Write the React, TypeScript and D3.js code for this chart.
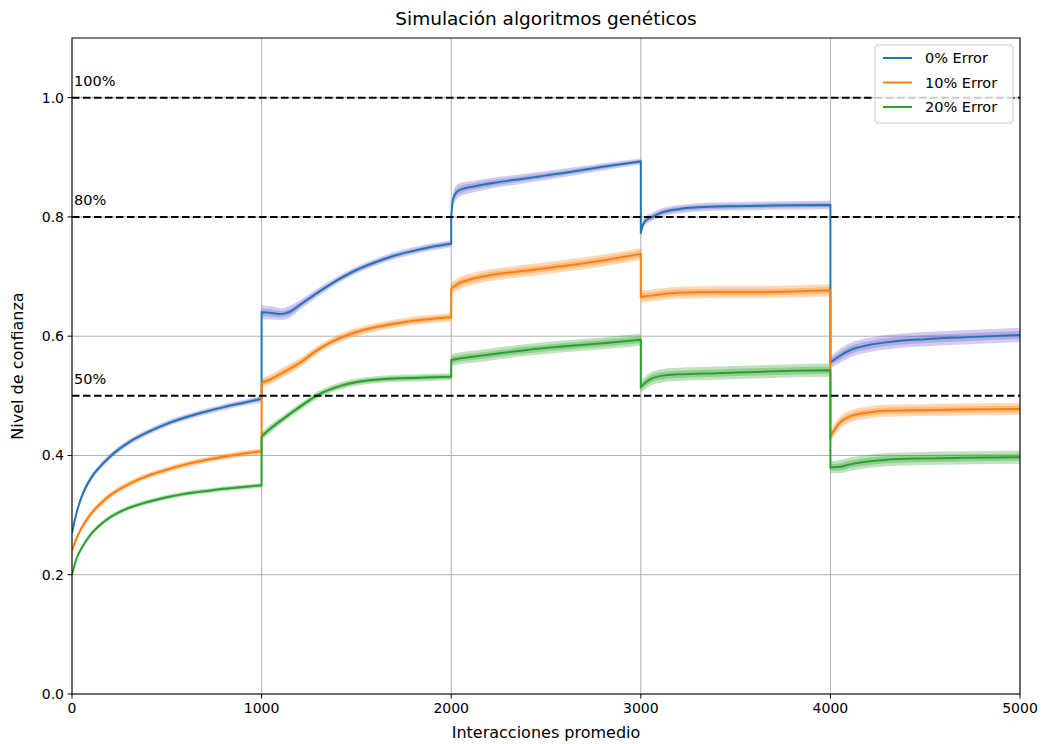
import React from "react";
import * as d3 from "d3";

// Each point: [iteration, mean confidence, band half-width]
const blueSegments: [number, number, number][][] = [
  [[0, 0.27, 0.004], [25, 0.305, 0.004], [50, 0.33, 0.005], [100, 0.362, 0.005], [150, 0.382, 0.005], [200, 0.398, 0.005], [300, 0.422, 0.005], [400, 0.439, 0.005], [500, 0.453, 0.005], [600, 0.464, 0.005], [700, 0.473, 0.005], [800, 0.481, 0.005], [900, 0.488, 0.005], [1000, 0.495, 0.006]],
  [[1000, 0.64, 0.012], [1050, 0.639, 0.011], [1100, 0.637, 0.01], [1150, 0.641, 0.01], [1200, 0.652, 0.008], [1300, 0.674, 0.007], [1400, 0.694, 0.006], [1500, 0.711, 0.006], [1600, 0.724, 0.006], [1700, 0.735, 0.006], [1800, 0.743, 0.006], [1900, 0.75, 0.006], [2000, 0.755, 0.006]],
  [[2000, 0.8, 0.01], [2010, 0.83, 0.012], [2030, 0.842, 0.012], [2060, 0.847, 0.011], [2100, 0.85, 0.01], [2200, 0.856, 0.009], [2400, 0.865, 0.008], [2600, 0.874, 0.007], [2800, 0.884, 0.006], [3000, 0.893, 0.005]],
  [[3000, 0.772, 0.006], [3010, 0.786, 0.007], [3030, 0.795, 0.007], [3060, 0.8, 0.007], [3100, 0.806, 0.007], [3200, 0.813, 0.007], [3300, 0.816, 0.007], [3500, 0.818, 0.007], [3700, 0.819, 0.007], [4000, 0.82, 0.007]],
  [[4000, 0.556, 0.01], [4050, 0.567, 0.012], [4100, 0.576, 0.012], [4200, 0.585, 0.012], [4300, 0.59, 0.012], [4500, 0.595, 0.012], [4700, 0.598, 0.012], [5000, 0.602, 0.012]],
];

const orangeSegments: [number, number, number][][] = [
  [[0, 0.24, 0.004], [25, 0.262, 0.004], [50, 0.278, 0.005], [100, 0.302, 0.005], [150, 0.319, 0.005], [200, 0.333, 0.005], [300, 0.352, 0.005], [400, 0.366, 0.005], [500, 0.376, 0.005], [600, 0.385, 0.005], [700, 0.392, 0.005], [800, 0.398, 0.005], [900, 0.403, 0.005], [1000, 0.407, 0.005]],
  [[1000, 0.522, 0.008], [1050, 0.528, 0.008], [1100, 0.537, 0.008], [1200, 0.555, 0.008], [1300, 0.578, 0.007], [1400, 0.595, 0.007], [1500, 0.607, 0.007], [1600, 0.615, 0.007], [1700, 0.621, 0.007], [1800, 0.626, 0.007], [1900, 0.629, 0.007], [2000, 0.632, 0.007]],
  [[2000, 0.68, 0.01], [2050, 0.69, 0.01], [2100, 0.695, 0.01], [2200, 0.702, 0.01], [2400, 0.71, 0.01], [2600, 0.718, 0.01], [2800, 0.727, 0.01], [3000, 0.738, 0.01]],
  [[3000, 0.666, 0.01], [3050, 0.668, 0.01], [3100, 0.67, 0.01], [3200, 0.673, 0.01], [3400, 0.674, 0.01], [3600, 0.674, 0.01], [3800, 0.675, 0.01], [4000, 0.677, 0.01]],
  [[4000, 0.432, 0.01], [4050, 0.455, 0.01], [4100, 0.465, 0.01], [4200, 0.472, 0.01], [4300, 0.475, 0.01], [4500, 0.476, 0.01], [4700, 0.477, 0.01], [5000, 0.478, 0.01]],
];

const greenSegments: [number, number, number][][] = [
  [[0, 0.2, 0.004], [25, 0.228, 0.004], [50, 0.244, 0.004], [100, 0.268, 0.004], [150, 0.284, 0.004], [200, 0.296, 0.004], [300, 0.312, 0.004], [400, 0.322, 0.004], [500, 0.33, 0.004], [600, 0.336, 0.004], [700, 0.34, 0.004], [800, 0.344, 0.004], [900, 0.347, 0.004], [1000, 0.35, 0.004]],
  [[1000, 0.432, 0.007], [1050, 0.446, 0.007], [1100, 0.458, 0.006], [1200, 0.481, 0.006], [1300, 0.502, 0.006], [1400, 0.515, 0.006], [1500, 0.523, 0.006], [1600, 0.527, 0.006], [1700, 0.529, 0.006], [1800, 0.53, 0.006], [1900, 0.531, 0.006], [2000, 0.532, 0.006]],
  [[2000, 0.56, 0.01], [2050, 0.563, 0.01], [2100, 0.565, 0.01], [2200, 0.569, 0.01], [2400, 0.577, 0.01], [2600, 0.583, 0.01], [2800, 0.588, 0.01], [3000, 0.594, 0.01]],
  [[3000, 0.515, 0.01], [3050, 0.528, 0.011], [3100, 0.533, 0.011], [3200, 0.536, 0.011], [3400, 0.538, 0.011], [3600, 0.54, 0.011], [3800, 0.542, 0.011], [4000, 0.543, 0.011]],
  [[4000, 0.38, 0.01], [4050, 0.381, 0.011], [4100, 0.385, 0.011], [4200, 0.39, 0.011], [4300, 0.393, 0.011], [4500, 0.395, 0.011], [4700, 0.396, 0.011], [5000, 0.397, 0.011]],
];

const xTicks = [0, 1000, 2000, 3000, 4000, 5000];
const yTicks = [0.0, 0.2, 0.4, 0.6, 0.8, 1.0];
const thresholds = [1.0, 0.8, 0.5];
const thresholdLabels = ["100%", "80%", "50%"];
const seriesNames = ["0% Error", "10% Error", "20% Error"];
const lineColors = ["#1f77b4", "#ff7f0e", "#2ca02c"];
const bandColors = ["#6a5acd", "#ff7f0e", "#2ca02c"];

const W = 1041;
const H = 744;
const M = { left: 72, right: 1020, top: 38, bottom: 694 };
const FONT = "DejaVu Sans, sans-serif";

export default function App() {
  const x = d3.scaleLinear().domain([0, 5000]).range([M.left, M.right]);
  const y = d3.scaleLinear().domain([0, 1.1]).range([M.bottom, M.top]);

  const allSeries = [blueSegments, orangeSegments, greenSegments];

  const lineGen = d3
    .line<[number, number, number]>()
    .x((d) => x(d[0]))
    .y((d) => y(d[1]))
    .curve(d3.curveMonotoneX);

  const areaGen = (k: number) =>
    d3
      .area<[number, number, number]>()
      .x((d) => x(d[0]))
      .y0((d) => y(d[1] - d[2] * k))
      .y1((d) => y(d[1] + d[2] * k))
      .curve(d3.curveMonotoneX);

  const outer = areaGen(1);
  const inner = areaGen(0.55);

  const linePath = (segs: [number, number, number][][]) =>
    segs
      .map((s, i) => {
        const p = lineGen(s) || "";
        return i === 0 ? p : p.replace(/^M/, "L");
      })
      .join("");

  return (
    <svg
      width={W}
      height={H}
      style={{ position: "absolute", left: 0, top: 0, background: "#fff" }}
      fontFamily={FONT}
    >
      <defs>
        <clipPath id="plotclip">
          <rect x={M.left} y={M.top} width={M.right - M.left} height={M.bottom - M.top} />
        </clipPath>
      </defs>
      <rect x={0} y={0} width={W} height={H} fill="#fff" />
      {/* grid */}
      {xTicks.map((t) => (
        <line key={"gx" + t} x1={x(t)} x2={x(t)} y1={M.top} y2={M.bottom} stroke="#b0b0b0" strokeWidth={1} />
      ))}
      {yTicks.map((t) => (
        <line key={"gy" + t} x1={M.left} x2={M.right} y1={y(t)} y2={y(t)} stroke="#b0b0b0" strokeWidth={1} />
      ))}
      <g clipPath="url(#plotclip)">
        {allSeries.map((segs, si) => (
          <g key={"band" + si}>
            {segs.map((s, i) => (
              <g key={i}>
                <path d={outer(s) || ""} fill={bandColors[si]} fillOpacity={0.3} />
                <path d={inner(s) || ""} fill={bandColors[si]} fillOpacity={0.3} />
              </g>
            ))}
          </g>
        ))}
        {allSeries.map((segs, si) => (
          <path key={"line" + si} d={linePath(segs)} fill="none" stroke={lineColors[si]} strokeWidth={2} />
        ))}
        {thresholds.map((t) => (
          <line key={"th" + t} x1={M.left} x2={M.right} y1={y(t)} y2={y(t)} stroke="#000" strokeWidth={2} strokeDasharray="7.5,3.5" />
        ))}
      </g>
      {thresholds.map((t, i) => (
        <text key={"tl" + t} x={x(0) + 2} y={y(t) - 12} fontSize={14.5} fill="#000">
          {thresholdLabels[i]}
        </text>
      ))}
      {/* frame */}
      <rect x={M.left} y={M.top} width={M.right - M.left} height={M.bottom - M.top} fill="none" stroke="#000" strokeWidth={1} />
      {/* x ticks */}
      {xTicks.map((t) => (
        <g key={"xt" + t}>
          <line x1={x(t)} x2={x(t)} y1={M.bottom} y2={M.bottom + 4.5} stroke="#000" />
          <text x={x(t)} y={M.bottom + 19} textAnchor="middle" fontSize={14} fill="#000">
            {t}
          </text>
        </g>
      ))}
      {yTicks.map((t) => (
        <g key={"yt" + t}>
          <line x1={M.left - 4.5} x2={M.left} y1={y(t)} y2={y(t)} stroke="#000" />
          <text x={M.left - 8} y={y(t) + 5} textAnchor="end" fontSize={14} fill="#000">
            {t.toFixed(1)}
          </text>
        </g>
      ))}
      <text x={(M.left + M.right) / 2} y={738} textAnchor="middle" fontSize={16} fill="#000">
        Interacciones promedio
      </text>
      <text
        transform={`translate(23,${(M.top + M.bottom) / 2}) rotate(-90)`}
        textAnchor="middle"
        fontSize={16}
        fill="#000"
      >
        Nivel de confianza
      </text>
      <text x={(M.left + M.right) / 2} y={25} textAnchor="middle" fontSize={18.5} fill="#000">
        Simulación algoritmos genéticos
      </text>
      {/* legend */}
      <g>
        <rect x={875} y={45} width={138} height={78} rx={3} fill="#fff" fillOpacity={0.8} stroke="#cccccc" />
        {seriesNames.map((n, i) => (
          <g key={n}>
            <line x1={883} x2={912} y1={58 + i * 24.5} y2={58 + i * 24.5} stroke={lineColors[i]} strokeWidth={2} />
            <text x={925} y={63 + i * 24.5} fontSize={14.5} fill="#000">
              {n}
            </text>
          </g>
        ))}
      </g>
    </svg>
  );
}
